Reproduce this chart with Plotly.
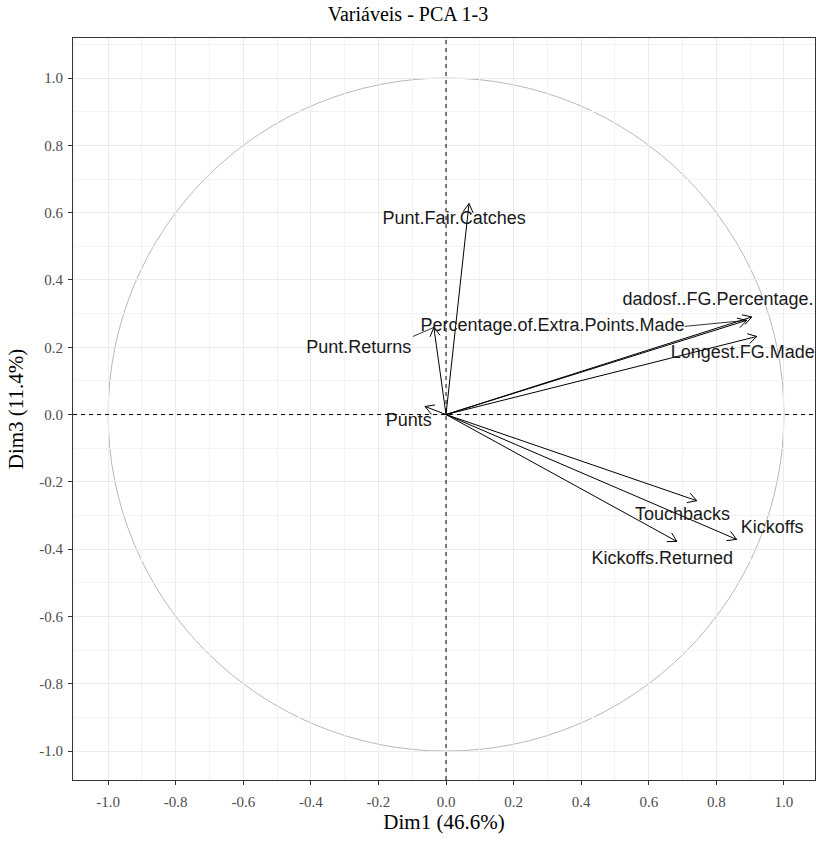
import numpy as np
import plotly.graph_objects as go

variables = ["Punt.Fair.Catches", "Punt.Returns", "Percentage.of.Extra.Points.Made",
             "dadosf..FG.Percentage.", "Longest.FG.Made", "Punts",
             "Touchbacks", "Kickoffs", "Kickoffs.Returned"]
dim1 = [0.068, -0.036, 0.890, 0.905, 0.920, -0.062, 0.742, 0.860, 0.683]
dim3 = [0.627, 0.259, 0.280, 0.290, 0.232, 0.024, -0.256, -0.371, -0.377]
label_x = [0.024, -0.258, 0.315, 0.805, 0.878, -0.11, 0.70, 0.965, 0.64]
label_y = [0.580, 0.196, 0.262, 0.340, 0.18, -0.022, -0.30, -0.34, -0.43]
# ggrepel connector segments (label edge -> point)
seg_var = ["Punt.Returns", "Percentage.of.Extra.Points.Made"]
seg_x0 = [-0.098, 0.706]
seg_y0 = [0.232, 0.262]

ticks = [-1.0, -0.8, -0.6, -0.4, -0.2, 0.0, 0.2, 0.4, 0.6, 0.8, 1.0]
tick_text = ["%.1f" % t for t in ticks]

fig = go.Figure()

# arrows: shafts + open heads
head_len = 0.03
ang = np.deg2rad(30)
xs, ys = [], []
for x, y in zip(dim1, dim3):
    xs += [0, x, None]
    ys += [0, y, None]
    th = np.arctan2(y, x)
    for s in (ang, -ang):
        xs += [x, x - head_len * np.cos(th + s), None]
        ys += [y, y - head_len * np.sin(th + s), None]
fig.add_trace(go.Scatter(x=xs, y=ys, mode="lines", line=dict(color="black", width=1),
                         hoverinfo="skip", showlegend=False))

# repel segments
sx, sy = [], []
for v, x0, y0 in zip(seg_var, seg_x0, seg_y0):
    i = variables.index(v)
    sx += [x0, dim1[i], None]
    sy += [y0, dim3[i], None]
fig.add_trace(go.Scatter(x=sx, y=sy, mode="lines", line=dict(color="black", width=0.8),
                         hoverinfo="skip", showlegend=False))

fig.add_trace(go.Scatter(x=label_x, y=label_y, mode="text", text=variables,
                         textfont=dict(family="Liberation Sans, Arial", size=18, color="#1a1a1a"),
                         textposition="middle center", hoverinfo="skip", showlegend=False))

shapes = [
    dict(type="circle", xref="x", yref="y", x0=-1, y0=-1, x1=1, y1=1,
         line=dict(color="#b8b8b8", width=1), layer="below"),
    dict(type="line", xref="x", yref="paper", x0=0, x1=0, y0=0, y1=1,
         line=dict(color="black", width=1, dash="4px,4px")),
    dict(type="line", xref="paper", yref="y", x0=0, x1=1, y0=0, y1=0,
         line=dict(color="black", width=1, dash="4px,4px")),
]

axis_common = dict(
    tickvals=ticks, ticktext=tick_text,
    tickfont=dict(family="Liberation Serif, Times New Roman", size=15, color="#4d4d4d"),
    ticks="outside", ticklen=4, tickcolor="#333333",
    showgrid=True, gridcolor="#ebebeb", gridwidth=1,
    minor=dict(dtick=0.1, showgrid=True, gridcolor="#f3f3f3", gridwidth=0.6, tick0=0.1),
    zeroline=False, showline=True, linecolor="#333333", linewidth=1, mirror=True,
)

fig.update_layout(
    width=816, height=841,
    margin=dict(l=73, r=1, t=38, b=61),
    paper_bgcolor="white", plot_bgcolor="white",
    title=dict(text="Variáveis - PCA 1-3", x=0.5, xanchor="center", y=0.992, yanchor="top",
               font=dict(family="Liberation Serif, Times New Roman", size=20, color="black")),
    xaxis=dict(range=[-1.104, 1.092], ticklabelstandoff=4,
               title=dict(text="Dim1 (46.6%)", standoff=2,
               font=dict(family="Liberation Serif, Times New Roman", size=21, color="black")),
               **axis_common),
    yaxis=dict(range=[-1.086, 1.119], ticklabelstandoff=2,
               title=dict(text="Dim3 (11.4%)", standoff=9,
               font=dict(family="Liberation Serif, Times New Roman", size=21, color="black")),
               **axis_common),
    shapes=shapes,
)

fig.write_html("out.html")
